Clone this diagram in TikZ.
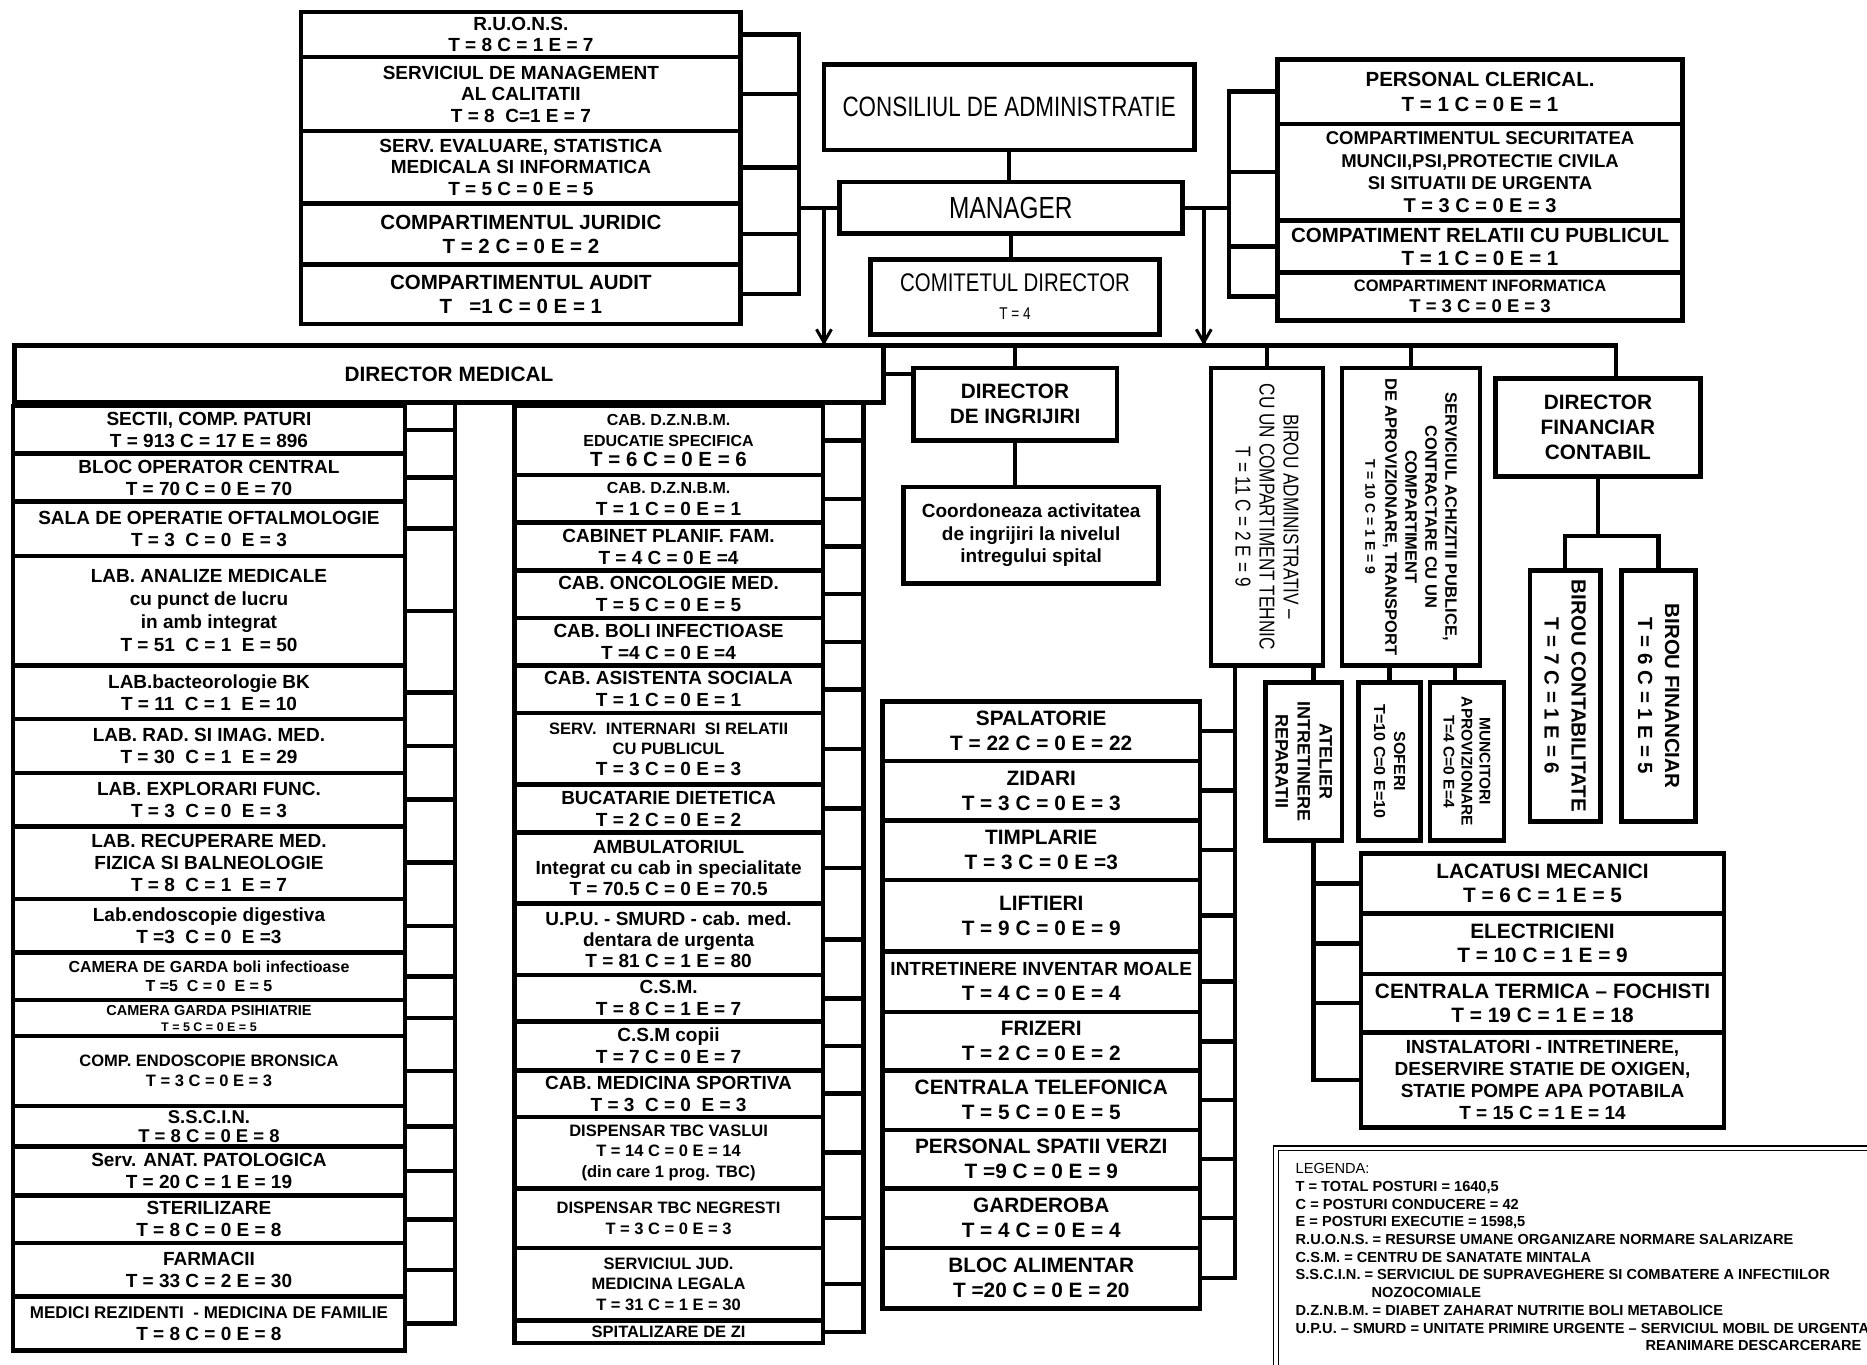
\documentclass[tikz,border=0pt]{standalone}
\usepackage{fontspec}
\setmainfont{Liberation Sans}
\newfontfamily\narrowfont[FakeStretch=0.8]{Liberation Sans}
\usetikzlibrary{arrows.meta}
\newcommand\myfs[2]{\fontsize{#1}{#2}\selectfont}
\newcommand\bx[5]{\bxA{#1}#2;#3;{#4}{#5}}
\def\bxA#1#2,#3;#4,#5;#6#7{%
 \pgfmathsetmacro\bxw{(#4-#2)*1.190689}%
 \pgfmathsetmacro\bxh{(#5-#3)*1.190689}%
 \node[bx,#6,minimum width=\bxw pt,minimum height=\bxh pt] (#1) at ({(#2+#4)/2},{(#3+#5)/2}) {#7};}
\tikzset{
 bx/.style={draw,line width=4.5pt,inner sep=0pt,align=center,fill=white},
 cn/.style={line width=4.5pt,line cap=rect},
 arr/.style={-{Straight Barb[length=13pt,width=15pt,line width=3pt]}},
 b19/.style={font=\myfs{19}{22}\bfseries},
 b21/.style={font=\myfs{20.8}{25}\bfseries},
 b16/.style={font=\myfs{16.5}{20.5}\bfseries},
 vt/.style={rotate=-90,align=center,inner sep=0pt},
}
\begin{document}
\begin{tikzpicture}[x=1.190689pt,y=-1.190689pt]
\useasboundingbox (0,0) rectangle (1568,1145.56);
\fill[white] (0,0) rectangle (1568,1145.56);
\clip (0,0) rectangle (1568,1145.56);

% ---------- top left block
\bx{tl1}{253,10}{622,48}{font=\myfs{19}{21}\bfseries}{R.U.O.N.S.\\T = 8 C = 1 E = 7}
\bx{tl2}{253,48}{622,110}{font=\myfs{19}{21.5}\bfseries}{SERVICIUL DE MANAGEMENT\\AL CALITATII\\T = 8~ C=1 E = 7}
\bx{tl3}{253,110}{622,171}{font=\myfs{19}{21.5}\bfseries}{SERV. EVALUARE, STATISTICA\\MEDICALA SI INFORMATICA\\T = 5 C = 0 E = 5}
\bx{tl4}{253,171}{622,222}{font=\myfs{20.5}{24}\bfseries}{COMPARTIMENTUL JURIDIC\\T = 2 C = 0 E = 2}
\bx{tl5}{253,222}{622,272}{font=\myfs{20.5}{24}\bfseries}{COMPARTIMENTUL AUDIT\\T~~~=1 C = 0 E = 1}

% ---------- centre top
\bx{cons}{692,54}{1003,126}{font=\narrowfont\myfs{28}{30}}{CONSILIUL DE ADMINISTRATIE}
\bx{mgr}{705,153}{993,196}{font=\narrowfont\myfs{30.5}{32}}{MANAGER}
\bx{com}{731,218}{974,281}{font=\narrowfont\myfs{25.5}{28}}{COMITETUL DIRECTOR\\{\myfs{17}{18}T = 4}}

% ---------- top right block
\bx{tr1}{1073,50}{1413,104}{font=\myfs{20.5}{25}\bfseries}{PERSONAL CLERICAL.\\T = 1 C = 0 E = 1}
\bx{tr2}{1073,104}{1413,185}{font=\myfs{18.5}{22.5}\bfseries}{COMPARTIMENTUL SECURITATEA\\MUNCII,PSI,PROTECTIE CIVILA\\SI SITUATII DE URGENTA\\{\myfs{20}{22}T = 3 C = 0 E = 3}}
\bx{tr3}{1073,185}{1413,229}{font=\myfs{20.5}{23}\bfseries}{COMPATIMENT RELATII CU PUBLICUL\\T = 1 C = 0 E = 1}
\bx{tr4}{1073,229}{1413,269}{font=\myfs{16.5}{21}\bfseries}{COMPARTIMENT INFORMATICA\\{\myfs{18.5}{21}T = 3 C = 0 E = 3}}

% ---------- director medical
\bx{dm}{12,290}{742,338}{font=\myfs{20.8}{24}\bfseries}{DIRECTOR MEDICAL}

% ---------- left column
\bx{l1}{11,341}{340,381}{b19}{SECTII, COMP. PATURI\\T = 913 C = 17 E = 896}
\bx{l2}{11,381}{340,421}{b19}{BLOC OPERATOR CENTRAL\\T = 70 C = 0 E = 70}
\bx{l3}{11,421}{340,467}{b19}{SALA DE OPERATIE OFTALMOLOGIE\\T = 3~ C = 0~ E = 3}
\bx{l4}{11,467}{340,559}{font=\myfs{19}{23}\bfseries}{LAB. ANALIZE MEDICALE\\cu punct de lucru\\in amb integrat\\T = 51~ C = 1~ E = 50}
\bx{l5}{11,559}{340,604}{b19}{LAB.bacteorologie BK\\T = 11~ C = 1~ E = 10}
\bx{l6}{11,604}{340,649}{b19}{LAB. RAD. SI IMAG. MED.\\T = 30~ C = 1~ E = 29}
\bx{l7}{11,649}{340,694}{b19}{LAB. EXPLORARI FUNC.\\T = 3~ C = 0~ E = 3}
\bx{l8}{11,694}{340,755}{b19}{LAB. RECUPERARE MED.\\FIZICA SI BALNEOLOGIE\\T = 8~ C = 1~ E = 7}
\bx{l9}{11,755}{340,800}{b19}{Lab.endoscopie digestiva\\T =3~ C = 0~ E =3}
\bx{l10}{11,800}{340,840}{font=\myfs{16}{19}\bfseries}{CAMERA DE GARDA boli infectioase\\T =5~ C = 0~ E = 5}
\bx{l11}{11,840}{340,870}{font=\myfs{14.5}{16}\bfseries}{CAMERA GARDA PSIHIATRIE\\{\myfs{12.5}{14}T = 5 C = 0 E = 5}}
\bx{l12}{11,870}{340,929}{font=\myfs{16.5}{20}\bfseries}{COMP. ENDOSCOPIE BRONSICA\\T = 3 C = 0 E = 3}
\bx{l13}{11,929}{340,963}{font=\myfs{18.5}{19.5}\bfseries}{S.S.C.I.N.\\T = 8 C = 0 E = 8}
\bx{l14}{11,963}{340,1004}{b19}{Serv. ANAT. PATOLOGICA\\T = 20 C = 1 E = 19}
\bx{l15}{11,1004}{340,1044}{b19}{STERILIZARE\\T = 8 C = 0 E = 8}
\bx{l16}{11,1044}{340,1089}{b19}{FARMACII\\T = 33 C = 2 E = 30}
\bx{l17}{11,1089}{340,1134}{font=\myfs{17}{22}\bfseries}{MEDICI REZIDENTI~ - MEDICINA DE FAMILIE\\{\myfs{19}{22}T = 8 C = 0 E = 8}}

% ---------- middle column
\bx{m1}{432,341}{691,399}{font=\myfs{16}{20.5}\bfseries}{CAB. D.Z.N.B.M.\\EDUCATIE SPECIFICA\\{\myfs{20.5}{22}T = 6 C = 0 E = 6}}
\bx{m2}{432,399}{691,439}{b19}{{\myfs{16}{18}CAB. D.Z.N.B.M.}\\T = 1 C = 0 E = 1}
\bx{m3}{432,439}{691,479}{b19}{CABINET PLANIF. FAM.\\T = 4 C = 0 E =4}
\bx{m4}{432,479}{691,519}{b19}{CAB. ONCOLOGIE MED.\\T = 5 C = 0 E = 5}
\bx{m5}{432,519}{691,559}{b19}{CAB. BOLI INFECTIOASE\\T =4 C = 0 E =4}
\bx{m6}{432,559}{691,599}{b19}{CAB. ASISTENTA SOCIALA\\T = 1 C = 0 E = 1}
\bx{m7}{432,599}{691,659}{font=\myfs{16.5}{20.5}\bfseries}{SERV.~ INTERNARI~ SI RELATII\\CU PUBLICUL\\{\myfs{19}{20}T = 3 C = 0 E = 3}}
\bx{m8}{432,659}{691,699}{b19}{BUCATARIE DIETETICA\\T = 2 C = 0 E = 2}
\bx{m9}{432,699}{691,759}{font=\myfs{19}{21}\bfseries}{AMBULATORIUL\\Integrat cu cab in specialitate\\T = 70.5 C = 0 E = 70.5}
\bx{m10}{432,759}{691,819}{font=\myfs{19}{21}\bfseries}{U.P.U. - SMURD - cab. med.\\dentara de urgenta\\T = 81 C = 1 E = 80}
\bx{m11}{432,819}{691,858}{b19}{C.S.M.\\T = 8 C = 1 E = 7}
\bx{m12}{432,858}{691,899}{b19}{C.S.M copii\\T = 7 C = 0 E = 7}
\bx{m13}{432,899}{691,938}{b19}{CAB. MEDICINA SPORTIVA\\T = 3~ C = 0~ E = 3}
\bx{m14}{432,938}{691,998}{b16}{DISPENSAR TBC VASLUI\\T = 14 C = 0 E = 14\\(din care 1 prog. TBC)}
\bx{m15}{432,998}{691,1048}{font=\myfs{16.5}{21}\bfseries}{DISPENSAR TBC NEGRESTI\\T = 3 C = 0 E = 3}
\bx{m16}{432,1048}{691,1109}{b16}{SERVICIUL JUD.\\MEDICINA LEGALA\\T = 31 C = 1 E = 30}
\bx{m17}{432,1109}{691,1128}{font=\myfs{16.5}{18}\bfseries}{SPITALIZARE DE ZI}

% ---------- director de ingrijiri
\bx{di}{767,309}{938,370}{b21}{DIRECTOR\\DE INGRIJIRI}
\bx{co}{759,409}{973,490}{font=\myfs{19}{22.5}\bfseries}{Coordoneaza activitatea\\de ingrijiri la nivelul\\intregului spital}

% ---------- spalatorie column
\bx{s1}{741,589}{1008,639}{b21}{SPALATORIE\\T = 22 C = 0 E = 22}
\bx{s2}{741,639}{1008,689}{b21}{ZIDARI\\T = 3 C = 0 E = 3}
\bx{s3}{741,689}{1008,739}{b21}{TIMPLARIE\\T = 3 C = 0 E =3}
\bx{s4}{741,739}{1008,799}{b21}{LIFTIERI\\T = 9 C = 0 E = 9}
\bx{s5}{741,799}{1008,850}{b21}{{\myfs{19}{22}INTRETINERE INVENTAR MOALE}\\T = 4 C = 0 E = 4}
\bx{s6}{741,850}{1008,899}{b21}{FRIZERI\\T = 2 C = 0 E = 2}
\bx{s7}{741,899}{1008,949}{b21}{CENTRALA TELEFONICA\\T = 5 C = 0 E = 5}
\bx{s8}{741,949}{1008,998}{b21}{PERSONAL SPATII VERZI\\T =9 C = 0 E = 9}
\bx{s9}{741,998}{1008,1048}{b21}{GARDEROBA\\T = 4 C = 0 E = 4}
\bx{s10}{741,1048}{1008,1099}{b21}{BLOC ALIMENTAR\\T =20 C = 0 E = 20}

% ---------- vertical boxes
\bx{ba}{1017,309}{1111,559}{anchor=center}{}
\node[vt,font=\narrowfont\myfs{21.5}{24}] (baT) at (ba.center) {BIROU ADMINISTRATIV –\\CU UN COMPARTIMENT TEHNIC\\T = 11 C = 2 E = 9};
\bx{sa}{1127,309}{1243,559}{anchor=center}{}
\node[vt,font=\myfs{16.5}{20}\bfseries] (saT) at (sa.center) {SERVICIUL ACHIZITII PUBLICE,\\CONTRACTARE CU UN\\COMPARTIMENT\\DE APROVIZIONARE, TRANSPORT\\{\myfs{14}{16}T = 10 C = 1 E = 9}};
\bx{df}{1256,318}{1428,400}{b21}{DIRECTOR\\FINANCIAR\\CONTABIL}
\bx{bc}{1285,479}{1344,690}{anchor=center}{}
\node[vt,font=\myfs{20.5}{27}\bfseries] (bcT) at (bc.center) {BIROU CONTABILITATE\\T = 7 C = 1 E = 6};
\bx{bf}{1362,479}{1424,690}{anchor=center}{}
\node[vt,font=\myfs{20.5}{27}\bfseries] (bfT) at (bf.center) {BIROU FINANCIAR\\T = 6 C = 1 E = 5};
\bx{at}{1063,573}{1127,706}{anchor=center}{}
\node[vt,font=\myfs{18}{22}\bfseries] (atT) at (at.center) {ATELIER\\INTRETINERE\\REPARATII};
\bx{so}{1141,573}{1193,706}{anchor=center}{}
\node[vt,font=\myfs{16}{20}\bfseries] (soT) at (so.center) {SOFERI\\T=10 C=0 E=10};
\bx{mu}{1201,573}{1263,706}{anchor=center}{}
\node[vt,font=\myfs{15.5}{18}\bfseries] (muT) at (mu.center) {MUNCITORI\\APROVIZIONARE\\T=4 C=0 E=4};

% ---------- lacatusi column
\bx{c1}{1143,717}{1448,767}{font=\myfs{20.8}{24}\bfseries}{LACATUSI MECANICI\\T = 6 C = 1 E = 5}
\bx{c2}{1143,767}{1448,818}{font=\myfs{20.8}{24}\bfseries}{ELECTRICIENI\\T = 10 C = 1 E = 9}
\bx{c3}{1143,818}{1448,867}{font=\myfs{20.8}{24}\bfseries}{CENTRALA TERMICA – FOCHISTI\\T = 19 C = 1 E = 18}
\bx{c4}{1143,867}{1448,947}{font=\myfs{19}{22.2}\bfseries}{INSTALATORI - INTRETINERE,\\DESERVIRE STATIE DE OXIGEN,\\STATIE POMPE APA POTABILA\\T = 15 C = 1 E = 14}

% ---------- connectors
\coordinate (tlbx) at (671,0);
\coordinate (trbx) at (1032,0);
\coordinate (aL) at (692,0);
\coordinate (aR) at (1011,0);
\coordinate (busL) at (12,290);
\coordinate (busR) at (1357,290);
\coordinate (lbx) at (382,0);
\coordinate (mbx) at (725,0);
\coordinate (sbx) at (1037,0);
\coordinate (abx) at (1103,0);
\coordinate (mux) at (1222,0);
\coordinate (dfy) at (0,450);

\foreach \n in {tl1,tl2,tl3,tl4,tl5} \draw[cn] (\n.east) -- (\n.east -| tlbx);
\draw[cn] (tl1.east -| tlbx) -- (tl5.east -| tlbx);
\draw[cn] (mgr.west) -- (mgr.west -| tlbx);
\draw[cn,arr] (mgr.west -| aL) -- (aL |- busL);

\foreach \n in {tr1,tr2,tr3,tr4} \draw[cn] (\n.west) -- (\n.west -| trbx);
\draw[cn] (tr1.west -| trbx) -- (tr4.west -| trbx);
\draw[cn] (mgr.east) -- (mgr.east -| trbx);
\draw[cn,arr] (mgr.east -| aR) -- (aR |- busL);

\draw[cn] (cons.south) -- (cons.south |- mgr.north);
\draw[cn] (mgr.south) -- (mgr.south |- com.north);

\draw[cn] (busL) -- (busR);

\draw[cn] (dm.south -| lbx) -- (l17.east -| lbx);
\foreach \n in {l1,l2,l3,l4,l5,l6,l7,l8,l9,l10,l11,l12,l13,l14,l15,l16,l17} \draw[cn] (\n.east) -- (\n.east -| lbx);
\draw[cn] (dm.south -| mbx) -- (m17.east -| mbx);
\foreach \n in {m1,m2,m3,m4,m5,m6,m7,m8,m9,m10,m11,m12,m13,m14,m15,m16,m17} \draw[cn] (\n.east) -- (\n.east -| mbx);

\draw[cn] (dm.east) -- (dm.east -| di.west);
\draw[cn] (di.north) -- (di.north |- busL);
\draw[cn] (di.south) -- (di.south |- co.north);

\draw[cn] (ba.north) -- (ba.north |- busL);
\draw[cn] (ba.south -| sbx) -- (s10.east -| sbx);
\foreach \n in {s1,s2,s3,s4,s5,s6,s7,s8,s9,s10} \draw[cn] (\n.east) -- (\n.east -| sbx);
\draw[cn] (ba.south -| abx) -- (at.north -| abx);
\draw[cn] (at.south -| abx) -- (c4.west -| abx);
\foreach \n in {c1,c2,c3,c4} \draw[cn] (\n.west) -- (\n.west -| abx);

\draw[cn] (sa.north) -- (sa.north |- busL);
\draw[cn] (sa.south -| so.north) -- (so.north);
\draw[cn] (sa.south -| mux) -- (mu.north -| mux);

\draw[cn] (busR) -- (busR |- df.north);
\draw[cn] (df.south) -- (df.south |- dfy);
\draw[cn] (bc.north |- dfy) -- (bf.north |- dfy);
\draw[cn] (bc.north |- dfy) -- (bc.north);
\draw[cn] (bf.north |- dfy) -- (bf.north);

% ---------- legend
\bx{legF}{1071.5,964.5}{1640,1220}{double,double distance=3.5pt,line width=1.3pt,fill=none}{}
\node[anchor=north west,align=left,inner sep=0pt,font=\myfs{14.6}{17.7}\bfseries] (legT) at (1088,977) {{\mdseries LEGENDA:}\\
T = TOTAL POSTURI = 1640,5\\
C = POSTURI CONDUCERE = 42\\
E = POSTURI EXECUTIE = 1598,5\\
R.U.O.N.S. = RESURSE UMANE ORGANIZARE NORMARE SALARIZARE\\
C.S.M. = CENTRU DE SANATATE MINTALA\\
S.S.C.I.N. = SERVICIUL DE SUPRAVEGHERE SI COMBATERE A INFECTIILOR\\
\hspace*{76pt}NOZOCOMIALE\\
D.Z.N.B.M. = DIABET ZAHARAT NUTRITIE BOLI METABOLICE\\
U.P.U. – SMURD = UNITATE PRIMIRE URGENTE – SERVICIUL MOBIL DE URGENTA\\
\hspace*{350pt}REANIMARE DESCARCERARE};
\end{tikzpicture}
\end{document}
